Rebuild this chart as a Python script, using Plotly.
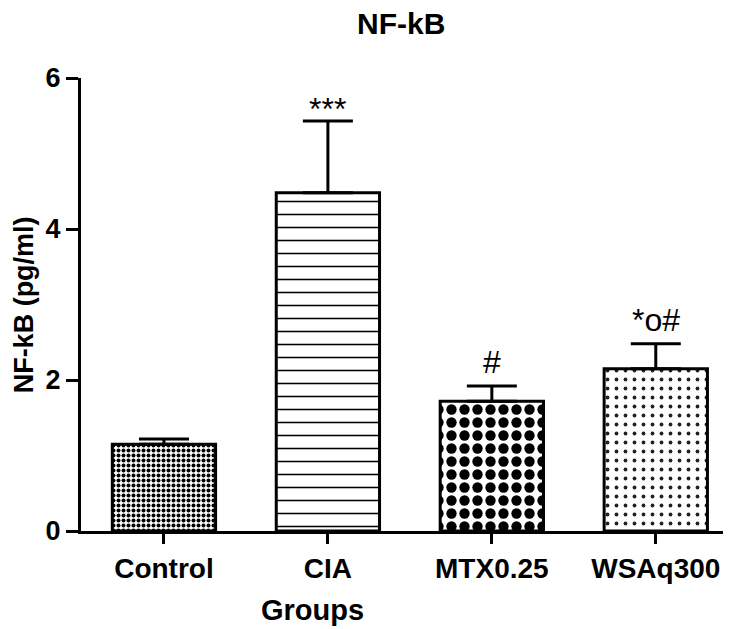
import plotly.graph_objects as go

groups = ["Control", "CIA", "MTX0.25", "WSAq300"]
means = [1.15, 4.48, 1.72, 2.15]
sems = [0.07, 0.95, 0.20, 0.33]
marks = ["", "***", "#", "*o#"]
mark_shift = [0, -8, 4, 4]
y_ticks = [0, 2, 4, 6]
y_ticktext = ["<b>0</b>", "<b>2</b>", "<b>4</b>", "<b>6</b>"]

FONT = "Liberation Sans, Arial"

patterns = [
    dict(shape=".", size=5, solidity=0.5, fgcolor="black", bgcolor="white", fgopacity=1, fillmode="overlay"),
    dict(shape="-", size=13, solidity=0.12, fgcolor="black", bgcolor="white", fgopacity=1, fillmode="overlay"),
    dict(shape=".", size=13, solidity=0.5, fgcolor="black", bgcolor="white", fgopacity=1, fillmode="overlay"),
    dict(shape=".", size=9, solidity=0.14, fgcolor="#222", bgcolor="white", fgopacity=1, fillmode="overlay"),
]

fig = go.Figure()
for i, g in enumerate(groups):
    fig.add_trace(go.Bar(
        x=[g], y=[means[i]], width=0.63,
        marker=dict(color="white", line=dict(color="black", width=3), pattern=patterns[i]),
        error_y=dict(type="data", array=[sems[i]], arrayminus=[0], symmetric=False,
                     color="black", thickness=3, width=25),
        showlegend=False,
    ))
    if marks[i]:
        fig.add_annotation(x=g, y=means[i] + sems[i], text=marks[i], showarrow=False,
                           yanchor="bottom", yshift=mark_shift[i],
                           font=dict(family=FONT, size=32, color="black"))

fig.add_annotation(text="<b>Groups</b>", xref="paper", yref="paper", x=0.36, y=-0.174,
                   showarrow=False, yanchor="middle", xanchor="center",
                   font=dict(family=FONT, size=29, color="black"))
fig.add_annotation(text="<b>NF-kB (pg/ml)</b>", xref="paper", yref="paper", x=-0.089, y=0.5,
                   showarrow=False, yanchor="middle", xanchor="center", textangle=-90,
                   font=dict(family=FONT, size=27, color="black"))

fig.update_layout(
    width=735, height=621,
    margin=dict(l=73, r=20, t=70, b=98),
    plot_bgcolor="white", paper_bgcolor="white",
    title=dict(text="<b>NF-kB</b>", x=0.535, xanchor="center", y=0.975, yanchor="middle",
               font=dict(family=FONT, size=30, color="black")),
    font=dict(family=FONT, color="black"),
    xaxis=dict(range=[-0.506, 3.41], showline=True, linecolor="black", linewidth=3,
               ticks="outside", ticklen=10, tickwidth=3, tickcolor="black", automargin=False,
               tickfont=dict(size=28, family=FONT, color="black"),
               tickprefix="<b>", ticksuffix="</b>", showgrid=False, zeroline=False),
    yaxis=dict(range=[0, 6], tickvals=y_ticks, ticktext=y_ticktext, showline=True,
               linecolor="black", linewidth=3, automargin=False,
               ticks="outside", ticklen=12, tickwidth=3, tickcolor="black",
               tickfont=dict(size=27, family=FONT, color="black"),
               showgrid=False, zeroline=False),
)

fig.write_html("out.html")
